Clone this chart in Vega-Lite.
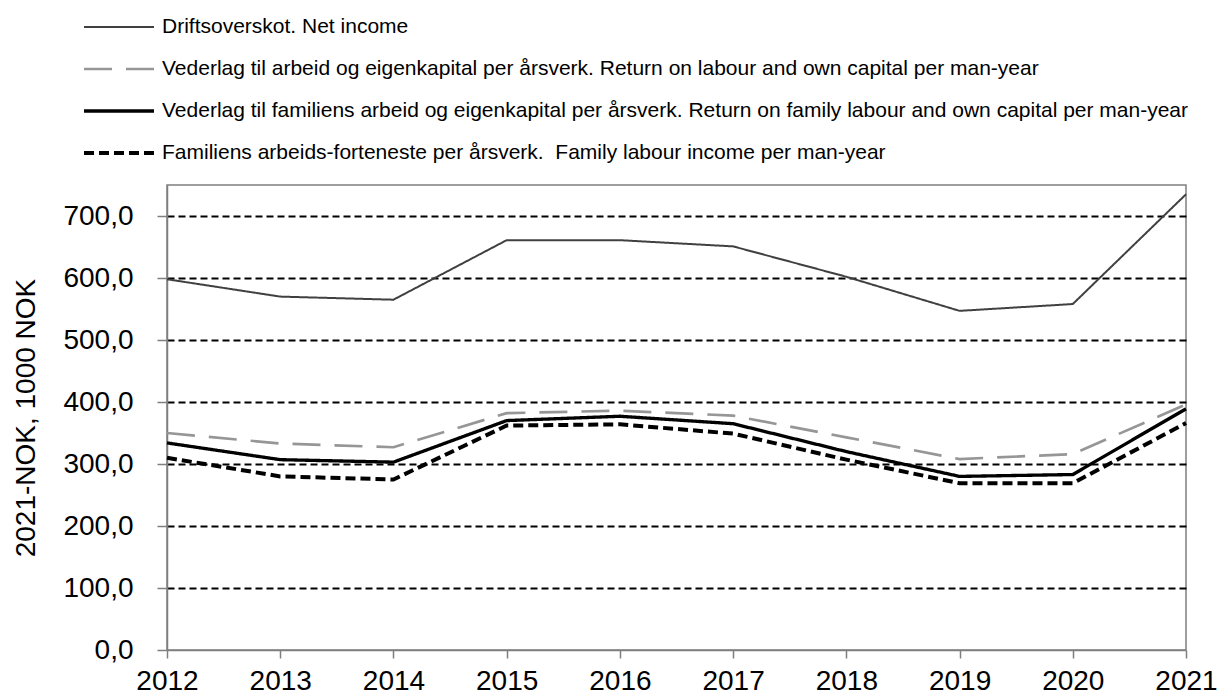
{
  "$schema": "https://vega.github.io/schema/vega-lite/v6.json",
  "width": 1019,
  "height": 465,
  "autosize": "none",
  "padding": {"left": 167, "top": 185, "right": 33, "bottom": 47},
  "background": "white",
  "config": {
    "font": "Liberation Sans",
    "view": {"stroke": "#7f7f7f", "strokeWidth": 1.5}
  },
  "data": {
    "values": [
      {"year": 2012, "series": "Driftsoverskot. Net income", "value": 598},
      {"year": 2013, "series": "Driftsoverskot. Net income", "value": 570},
      {"year": 2014, "series": "Driftsoverskot. Net income", "value": 565},
      {"year": 2015, "series": "Driftsoverskot. Net income", "value": 661},
      {"year": 2016, "series": "Driftsoverskot. Net income", "value": 661},
      {"year": 2017, "series": "Driftsoverskot. Net income", "value": 651},
      {"year": 2018, "series": "Driftsoverskot. Net income", "value": 602},
      {"year": 2019, "series": "Driftsoverskot. Net income", "value": 547},
      {"year": 2020, "series": "Driftsoverskot. Net income", "value": 558},
      {"year": 2021, "series": "Driftsoverskot. Net income", "value": 735},
      {"year": 2012, "series": "Vederlag til arbeid og eigenkapital per årsverk. Return on labour and own capital per man-year", "value": 350},
      {"year": 2013, "series": "Vederlag til arbeid og eigenkapital per årsverk. Return on labour and own capital per man-year", "value": 333},
      {"year": 2014, "series": "Vederlag til arbeid og eigenkapital per årsverk. Return on labour and own capital per man-year", "value": 327},
      {"year": 2015, "series": "Vederlag til arbeid og eigenkapital per årsverk. Return on labour and own capital per man-year", "value": 382},
      {"year": 2016, "series": "Vederlag til arbeid og eigenkapital per årsverk. Return on labour and own capital per man-year", "value": 386},
      {"year": 2017, "series": "Vederlag til arbeid og eigenkapital per årsverk. Return on labour and own capital per man-year", "value": 378},
      {"year": 2018, "series": "Vederlag til arbeid og eigenkapital per årsverk. Return on labour and own capital per man-year", "value": 343},
      {"year": 2019, "series": "Vederlag til arbeid og eigenkapital per årsverk. Return on labour and own capital per man-year", "value": 308},
      {"year": 2020, "series": "Vederlag til arbeid og eigenkapital per årsverk. Return on labour and own capital per man-year", "value": 316},
      {"year": 2021, "series": "Vederlag til arbeid og eigenkapital per årsverk. Return on labour and own capital per man-year", "value": 396},
      {"year": 2012, "series": "Vederlag til familiens arbeid og eigenkapital per årsverk. Return on family labour and own capital per man-year", "value": 334},
      {"year": 2013, "series": "Vederlag til familiens arbeid og eigenkapital per årsverk. Return on family labour and own capital per man-year", "value": 307},
      {"year": 2014, "series": "Vederlag til familiens arbeid og eigenkapital per årsverk. Return on family labour and own capital per man-year", "value": 303},
      {"year": 2015, "series": "Vederlag til familiens arbeid og eigenkapital per årsverk. Return on family labour and own capital per man-year", "value": 370},
      {"year": 2016, "series": "Vederlag til familiens arbeid og eigenkapital per årsverk. Return on family labour and own capital per man-year", "value": 377},
      {"year": 2017, "series": "Vederlag til familiens arbeid og eigenkapital per årsverk. Return on family labour and own capital per man-year", "value": 365},
      {"year": 2018, "series": "Vederlag til familiens arbeid og eigenkapital per årsverk. Return on family labour and own capital per man-year", "value": 320},
      {"year": 2019, "series": "Vederlag til familiens arbeid og eigenkapital per årsverk. Return on family labour and own capital per man-year", "value": 280},
      {"year": 2020, "series": "Vederlag til familiens arbeid og eigenkapital per årsverk. Return on family labour and own capital per man-year", "value": 283},
      {"year": 2021, "series": "Vederlag til familiens arbeid og eigenkapital per årsverk. Return on family labour and own capital per man-year", "value": 389},
      {"year": 2012, "series": "Familiens arbeids-forteneste per årsverk. \u00a0Family labour income per man-year", "value": 310},
      {"year": 2013, "series": "Familiens arbeids-forteneste per årsverk. \u00a0Family labour income per man-year", "value": 280},
      {"year": 2014, "series": "Familiens arbeids-forteneste per årsverk. \u00a0Family labour income per man-year", "value": 275},
      {"year": 2015, "series": "Familiens arbeids-forteneste per årsverk. \u00a0Family labour income per man-year", "value": 362},
      {"year": 2016, "series": "Familiens arbeids-forteneste per årsverk. \u00a0Family labour income per man-year", "value": 364},
      {"year": 2017, "series": "Familiens arbeids-forteneste per årsverk. \u00a0Family labour income per man-year", "value": 349},
      {"year": 2018, "series": "Familiens arbeids-forteneste per årsverk. \u00a0Family labour income per man-year", "value": 307},
      {"year": 2019, "series": "Familiens arbeids-forteneste per årsverk. \u00a0Family labour income per man-year", "value": 269},
      {"year": 2020, "series": "Familiens arbeids-forteneste per årsverk. \u00a0Family labour income per man-year", "value": 269},
      {"year": 2021, "series": "Familiens arbeids-forteneste per årsverk. \u00a0Family labour income per man-year", "value": 366}
    ]
  },
  "mark": {"type": "line", "clip": false},
  "encoding": {
    "x": {
      "field": "year",
      "type": "quantitative",
      "scale": {"domain": [2012, 2021], "nice": false, "zero": false},
      "axis": {
        "title": null,
        "values": [2012, 2013, 2014, 2015, 2016, 2017, 2018, 2019, 2020, 2021],
        "format": "d",
        "grid": false,
        "domainColor": "#7f7f7f",
        "domainWidth": 1.5,
        "tickColor": "#7f7f7f",
        "tickWidth": 1.5,
        "tickSize": 8,
        "labelFontSize": 28,
        "labelColor": "#000000",
        "labelPadding": 9,
        "labelFlush": false,
        "labelOverlap": false
      }
    },
    "y": {
      "field": "value",
      "type": "quantitative",
      "scale": {"domain": [0, 750], "nice": false},
      "axis": {
        "title": "2021-NOK, 1000 NOK",
        "titleFontSize": 28,
        "titleFontWeight": "normal",
        "titleColor": "#000000",
        "titlePadding": 22,
        "values": [0, 100, 200, 300, 400, 500, 600, 700],
        "format": ".1f",
        "labelExpr": "replace(format(datum.value, '.1f'), '.', ',')",
        "grid": true,
        "gridColor": "#000000",
        "gridWidth": 2,
        "gridDash": [7, 4],
        "gridOpacity": {"condition": {"test": "datum.value === 0", "value": 0}, "value": 1},
        "domainColor": "#7f7f7f",
        "domainWidth": 1.5,
        "tickColor": "#7f7f7f",
        "tickWidth": 1.5,
        "tickSize": 10,
        "labelFontSize": 28,
        "labelColor": "#000000",
        "labelPadding": 24
      }
    },
    "color": {
      "field": "series",
      "type": "nominal",
      "scale": {
        "domain": [
          "Driftsoverskot. Net income",
          "Vederlag til arbeid og eigenkapital per årsverk. Return on labour and own capital per man-year",
          "Vederlag til familiens arbeid og eigenkapital per årsverk. Return on family labour and own capital per man-year",
          "Familiens arbeids-forteneste per årsverk. \u00a0Family labour income per man-year"
        ],
        "range": ["#404040", "#969696", "#000000", "#000000"]
      },
      "legend": {
        "title": null,
        "orient": "none",
        "legendX": -85,
        "legendY": -179,
        "symbolType": "stroke",
        "symbolSize": 4900,
        "clipHeight": 42,
        "rowPadding": 0,
        "labelOffset": 6,
        "labelFontSize": 21,
        "labelColor": "#000000",
        "labelLimit": 1200,
        "padding": 0
      }
    },
    "strokeDash": {
      "field": "series",
      "type": "nominal",
      "scale": {
        "domain": [
          "Driftsoverskot. Net income",
          "Vederlag til arbeid og eigenkapital per årsverk. Return on labour and own capital per man-year",
          "Vederlag til familiens arbeid og eigenkapital per årsverk. Return on family labour and own capital per man-year",
          "Familiens arbeids-forteneste per årsverk. \u00a0Family labour income per man-year"
        ],
        "range": [[1, 0], [28, 14], [1, 0], [10, 5]]
      },
      "legend": {
        "title": null,
        "orient": "none",
        "legendX": -85,
        "legendY": -179,
        "symbolType": "stroke",
        "symbolSize": 4900,
        "clipHeight": 42,
        "rowPadding": 0,
        "labelOffset": 6,
        "labelFontSize": 21,
        "labelColor": "#000000",
        "labelLimit": 1200,
        "padding": 0
      }
    },
    "strokeWidth": {
      "field": "series",
      "type": "nominal",
      "scale": {
        "domain": [
          "Driftsoverskot. Net income",
          "Vederlag til arbeid og eigenkapital per årsverk. Return on labour and own capital per man-year",
          "Vederlag til familiens arbeid og eigenkapital per årsverk. Return on family labour and own capital per man-year",
          "Familiens arbeids-forteneste per årsverk. \u00a0Family labour income per man-year"
        ],
        "range": [2, 4, 2.5, 4]
      },
      "legend": {
        "title": null,
        "orient": "none",
        "legendX": -85,
        "legendY": -179,
        "symbolType": "stroke",
        "symbolSize": 4900,
        "clipHeight": 42,
        "rowPadding": 0,
        "labelOffset": 6,
        "labelFontSize": 21,
        "labelColor": "#000000",
        "labelLimit": 1200,
        "padding": 0
      }
    }
  }
}
